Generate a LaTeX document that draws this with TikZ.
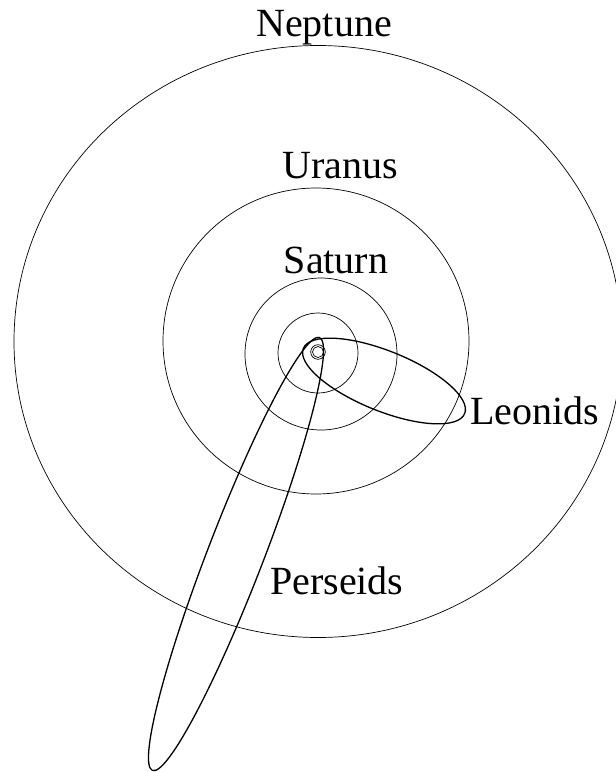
\documentclass[tikz,border=0pt]{standalone}
\usepackage{fontspec}
\setmainfont{Liberation Serif}
\usepackage{tikz}
\usetikzlibrary{positioning}

\begin{document}
\begin{tikzpicture}[
  x=1pt, y=1pt,
  every node/.style={inner sep=0pt, font=\fontsize{40}{46}\selectfont},
  planet/.style={draw, line width=0.7pt},
  comet/.style={draw, line width=1.3pt},
  label/.style={anchor=base}
]
\useasboundingbox (0,0) rectangle (616,-772);

\coordinate (sun) at (318,-352);

% planet orbits
\draw[planet] (sun) ++(0,10.5) ellipse [x radius=304, y radius=296];
\draw[planet] (sun) ++(-2,11) circle [radius=153];
\draw[planet] (sun) ++(3,-2) circle [radius=76];
\draw[planet] (sun) ++(0,-1) circle [radius=40];
\draw[planet] (sun) circle [radius=7.3];
\draw[planet] (sun) circle [radius=5.5];

% meteor stream orbits
\draw[comet] (384,-381) ellipse [x radius=87, y radius=30, rotate=-22];
\draw[comet] (236,-554) ellipse [x radius=232, y radius=28, rotate=68.9];

% labels
\node[label] (neptune)  at (324,-36)  {Neptune};
\node[label] (uranus)   at (340,-178) {Uranus};
\node[label] (saturn)   at (336,-273) {Saturn};
\node[label, anchor=base west] (leonids)  at (470,-424) {Leonids};
\node[label, anchor=base west] (perseids) at (270,-594) {Perseids};

\end{tikzpicture}
\end{document}
